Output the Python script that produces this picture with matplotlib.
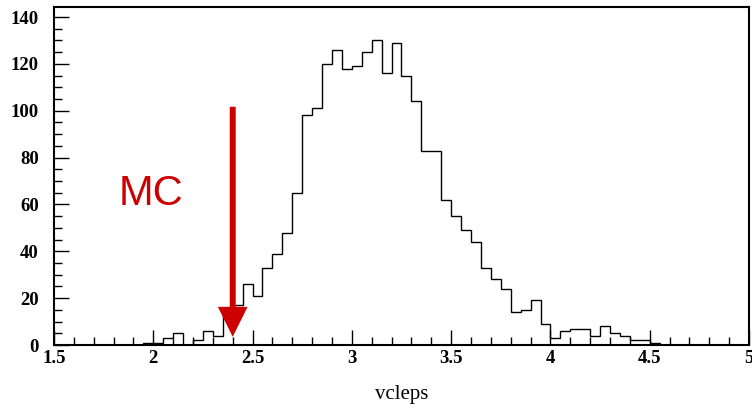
import numpy as np
import matplotlib
matplotlib.use('Agg')
import matplotlib.pyplot as plt
from matplotlib.ticker import MultipleLocator

# histogram of vcleps, 70 bins from 1.5 to 5
x_lo, x_hi, n_bins = 1.5, 5.0, 70
counts = [
    0, 0, 0, 0, 0, 0, 0, 0, 0,            # 1.50 - 1.90
    1, 1, 3, 5, 0, 2, 6, 4, 13, 17,       # 1.95 - 2.40
    26, 21, 33, 39, 48, 65, 98, 101, 120, 126,  # 2.45 - 2.90
    118, 119, 125, 130, 116, 129, 115, 104, 83, 83,  # 2.95 - 3.40
    62, 55, 49, 44, 33, 28, 24, 14, 15, 19,  # 3.45 - 3.90
    9, 3, 6, 7, 7, 4, 8, 5, 4, 2,          # 3.95 - 4.40
    2, 1,                                  # 4.45 - 4.50
    0, 0, 0, 0, 0, 0, 0, 0, 0,            # 4.55 - 4.95
]
x_label = 'vcleps'
tag = 'MC'

# cut arrow (x position, top, tip)
cut_x = 2.4
arrow_top, arrow_tip = 101.7, 3.5

red = '#cc0000'

fig = plt.figure(figsize=(7.52, 4.09), dpi=100)
ax = fig.add_axes([54 / 752, 1 - 345 / 409, 695 / 752, 338 / 409])

edges = np.linspace(x_lo, x_hi, n_bins + 1)
ax.stairs(counts, edges, color='black', linewidth=1.0)

ax.set_xlim(x_lo, x_hi)
ax.set_ylim(0, 144.3)

# cut arrow
ax.arrow(cut_x, arrow_top, 0, arrow_tip - arrow_top, width=0.03,
         head_width=0.15, head_length=12.8, length_includes_head=True,
         color=red, linewidth=0)

ax.text(1.825, 59.8, tag, color=red, fontsize=30, family='Liberation Sans',
        va='baseline', ha='left')

# axes styling
for side in ax.spines.values():
    side.set_linewidth(1.5)

ax.xaxis.set_major_locator(MultipleLocator(0.5))
ax.xaxis.set_minor_locator(MultipleLocator(0.1))
ax.yaxis.set_major_locator(MultipleLocator(20))
ax.yaxis.set_minor_locator(MultipleLocator(5))
ax.tick_params(which='both', direction='in', top=False, right=False, width=1)
ax.tick_params(which='major', length=11)
ax.tick_params(which='minor', length=5.5)
ax.tick_params(axis='y', pad=11)
ax.tick_params(axis='x', pad=3.5)

ax.xaxis.set_major_formatter(plt.FuncFormatter(lambda v, p: f'{v:g}'))
for lbl in ax.get_xticklabels() + ax.get_yticklabels():
    lbl.set_family('Liberation Serif')
    lbl.set_fontweight('bold')
    lbl.set_fontsize(13.5)

ax.set_xlabel(x_label, family='Liberation Serif', fontsize=15, labelpad=13)

fig.savefig('out.png', dpi=100)
